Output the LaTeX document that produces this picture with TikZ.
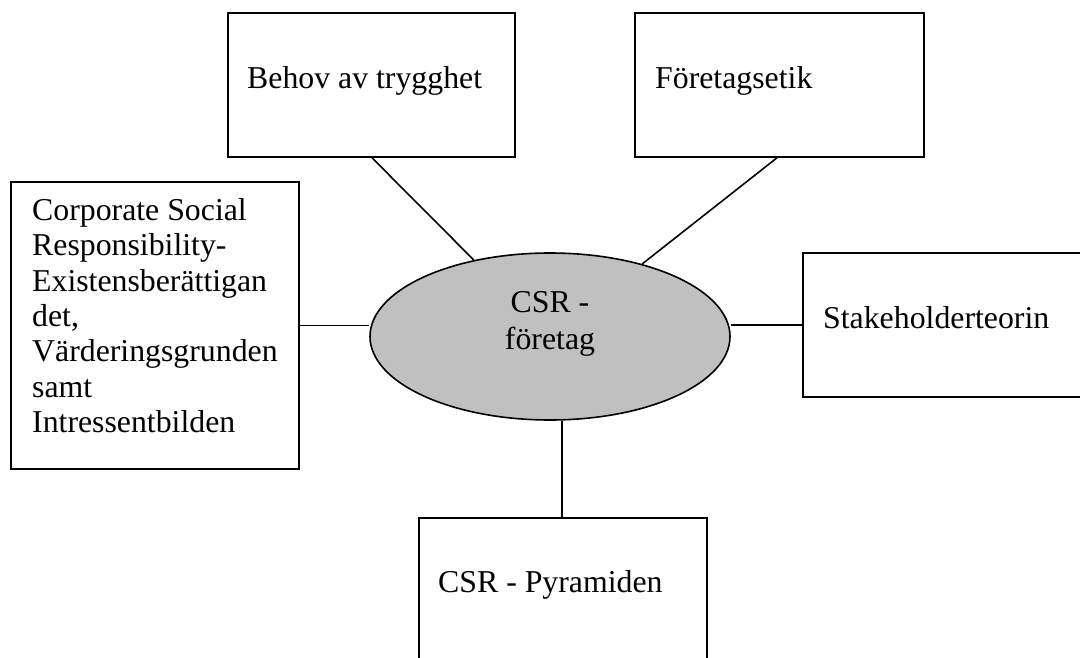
\documentclass[tikz,border=0pt]{standalone}
\usepackage{fontspec}
\setmainfont{Liberation Serif}
\usetikzlibrary{shapes.geometric}
\definecolor{ellfill}{RGB}{192,192,192}
\begin{document}
\begin{tikzpicture}[x=1pt,y=-1pt,
  box/.style={draw=black, line width=1.8pt, fill=none, anchor=north west, inner sep=0pt},
  lbl/.style={font=\fontsize{31.8}{35.3}\selectfont, inner sep=0pt},
  conn/.style={draw=black, line width=1.6pt}]
\useasboundingbox (0,0) rectangle (1080,657);
\fill[white] (0,0) rectangle (1080,657);
% boxes
\node[box, minimum width=287pt, minimum height=144pt] (b1) at (227,12) {};
\node[box, minimum width=289pt, minimum height=144pt] (b2) at (634,12) {};
\node[box, minimum width=288pt, minimum height=287pt] (b3) at (10,181) {};
\node[box, minimum width=290pt, minimum height=144pt] (b4) at (802,252) {};
\node[box, minimum width=288pt, minimum height=160pt] (b5) at (418,517) {};
% ellipse
\node[ellipse, draw=black, line width=1.6pt, fill=ellfill, minimum width=360pt, minimum height=167pt, inner sep=0pt] (e) at (550,336.5) {};
% connectors
\draw[conn] ([xshift=145pt]b1.south west) -- (e);
\draw[conn] ([xshift=143pt]b2.south west) -- (e);
\draw[conn] (b3.east) -- (b3.east -| e.west);
\draw[conn] (b4.west) -- (b4.west -| e.east);
\coordinate (c5) at ([xshift=144pt]b5.north west);
\draw[conn] (c5) -- (c5 |- e.south);
% texts
\node[lbl, anchor=base west] (t1) at (247,88) {Behov av trygghet};
\node[lbl, anchor=base west] (t2) at (655,88) {Företagsetik};
\node[lbl, anchor=base west] (t4) at (823,328) {Stakeholderteorin};
\node[lbl, anchor=base west] (t5) at (438,592) {CSR - Pyramiden};
\node[lbl, anchor=north west, align=left] (t3) at (32,198.3) {Corporate Social\\Responsibility-\\Existensberättigan\\det,\\Värderingsgrunden\\samt\\Intressentbilden};
\node[lbl, font=\fontsize{31.8}{37.5}\selectfont, anchor=north, align=center] (te) at (550,290.8) {CSR -\\företag};
\end{tikzpicture}
\end{document}
